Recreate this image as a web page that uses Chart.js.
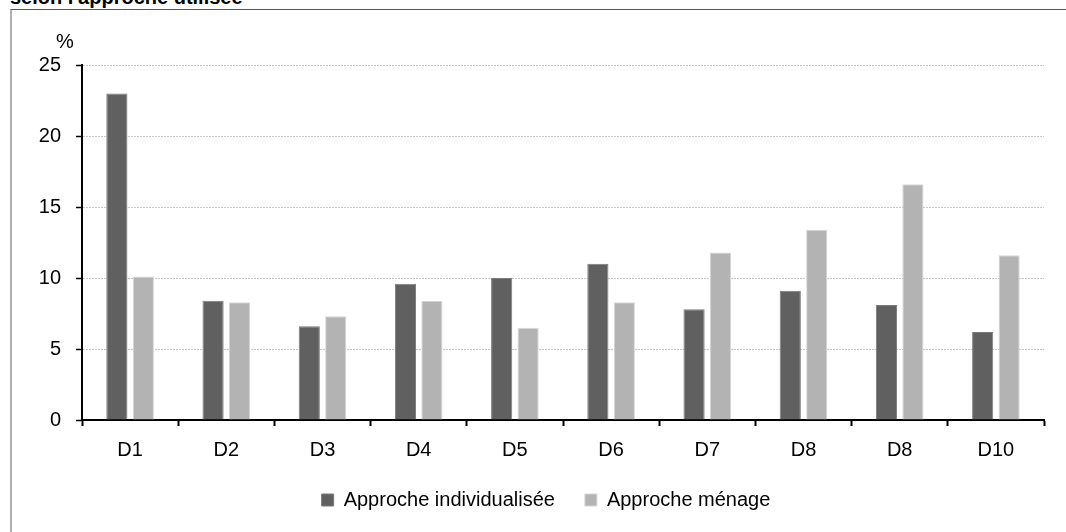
<!DOCTYPE html>
<html lang="fr">
<head>
    <meta charset="UTF-8">
    <title>Selon l'approche utilisée</title>
    <script src="https://cdn.jsdelivr.net/npm/chart.js"></script>
    <style>
        * {
            margin: 0;
            padding: 0;
            box-sizing: border-box;
        }

        body {
            width: 1066px;
            height: 532px;
            overflow: hidden;
            background: #fff;
            position: relative;
            font-family: 'Liberation Sans', Arial, sans-serif;
        }

        .titre {
            position: absolute;
            left: 10px;
            top: -13px;
            font-size: 20px;
            line-height: 20px;
            font-weight: bold;
            color: #000;
            white-space: nowrap;
        }

        .cadre {
            position: absolute;
            left: 10px;
            top: 9px;
            width: 1100px;
            height: 600px;
            border-left: 2px solid #b0b0b0;
            border-top: 1px solid #555;
        }

        #graphique {
            position: absolute;
            left: 0;
            top: 0;
        }
    </style>
</head>
<body>
    <div class="titre">selon l'approche utilisée</div>
    <div class="cadre"></div>
    <canvas id="graphique" width="1066" height="532"></canvas>

    <script>
        // Données (en %)
        const deciles = ['D1', 'D2', 'D3', 'D4', 'D5', 'D6', 'D7', 'D8', 'D8', 'D10'];
        const approcheIndividualisee = [23.0, 8.4, 6.6, 9.6, 10.0, 11.0, 7.8, 9.1, 8.1, 6.2];
        const approcheMenage = [10.1, 8.3, 7.3, 8.4, 6.5, 8.3, 11.8, 13.4, 16.6, 11.6];
        const yMin = 0;
        const yMax = 25;
        const yPas = 5;

        const police = "'Liberation Sans', Arial, sans-serif";

        // Petit libellé "%" au-dessus de l'axe vertical
        const uniteAxe = {
            id: 'uniteAxe',
            afterDraw(chart) {
                const ctx = chart.ctx;
                ctx.save();
                ctx.font = '20px ' + police;
                ctx.fillStyle = '#000';
                ctx.textAlign = 'center';
                ctx.textBaseline = 'middle';
                ctx.fillText('%', 65, 42);
                ctx.restore();
            }
        };

        new Chart(document.getElementById('graphique'), {
            type: 'bar',
            data: {
                labels: deciles,
                datasets: [{
                    label: 'Approche individualisée',
                    data: approcheIndividualisee,
                    yAxisID: 'y',
                    backgroundColor: '#606060',
                    borderColor: '#7a7a7a',
                    borderWidth: 1
                }, {
                    label: 'Approche ménage',
                    data: approcheMenage,
                    yAxisID: 'y',
                    backgroundColor: '#b3b3b3',
                    borderColor: '#d6d6d6',
                    borderWidth: 1
                }]
            },
            options: {
                responsive: false,
                animation: false,
                categoryPercentage: 0.55,
                barPercentage: 0.8,
                layout: {
                    padding: { left: 30, right: 4, top: 65, bottom: 12 }
                },
                scales: {
                    x: {
                        grid: {
                            offset: true,
                            drawOnChartArea: false,
                            drawTicks: true,
                            tickLength: 6,
                            tickColor: '#000',
                            tickWidth: 2
                        },
                        border: { color: '#000', width: 2 },
                        ticks: {
                            color: '#000',
                            padding: 12,
                            font: { family: police, size: 20 }
                        },
                        afterFit(scale) {
                            scale.height = 40;
                        }
                    },
                    y: {
                        min: yMin,
                        max: yMax,
                        ticks: {
                            stepSize: yPas,
                            color: '#000',
                            padding: 15,
                            font: { family: police, size: 20 }
                        },
                        grid: {
                            color: '#c8c8c8',
                            lineWidth: 1,
                            drawTicks: true,
                            tickLength: 6,
                            tickColor: '#000',
                            tickWidth: 1.5,
                            tickBorderDash: []
                        },
                        border: { color: '#000', width: 2, dash: [2, 1] },
                        afterFit(scale) {
                            scale.width = 52;
                        }
                    },
                    // marge vide à droite, pour centrer la légende comme l'original
                    marge: {
                        type: 'linear',
                        position: 'right',
                        ticks: { display: false },
                        grid: { display: false },
                        border: { display: false },
                        afterFit(scale) {
                            scale.width = 18;
                        }
                    }
                },
                plugins: {
                    legend: {
                        position: 'bottom',
                        labels: {
                            color: '#000',
                            boxWidth: 12,
                            boxHeight: 12,
                            padding: 30,
                            font: { family: police, size: 20 }
                        }
                    },
                    tooltip: { enabled: false }
                }
            },
            plugins: [uniteAxe]
        });
    </script>
</body>
</html>
